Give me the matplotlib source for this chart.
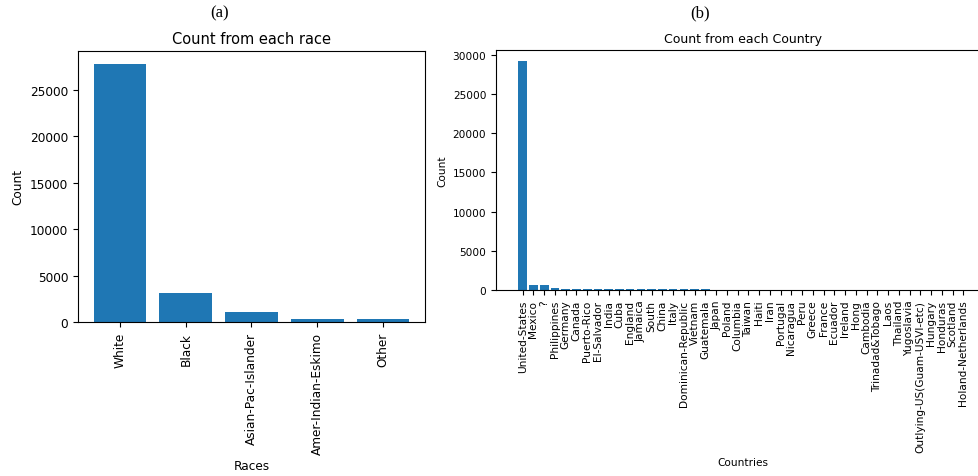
import matplotlib
matplotlib.use("Agg")
import matplotlib.pyplot as plt

# Census income data: record counts per race and per native country
races = ["White", "Black", "Asian-Pac-Islander", "Amer-Indian-Eskimo", "Other"]
race_counts = [27816, 3124, 1039, 311, 271]

countries = [
    "United-States", "Mexico", "?", "Philippines", "Germany", "Canada",
    "Puerto-Rico", "El-Salvador", "India", "Cuba", "England", "Jamaica",
    "South", "China", "Italy", "Dominican-Republic", "Vietnam", "Guatemala",
    "Japan", "Poland", "Columbia", "Taiwan", "Haiti", "Iran", "Portugal",
    "Nicaragua", "Peru", "Greece", "France", "Ecuador", "Ireland", "Hong",
    "Cambodia", "Trinadad&Tobago", "Laos", "Thailand", "Yugoslavia",
    "Outlying-US(Guam-USVI-etc)", "Hungary", "Honduras", "Scotland",
    "Holand-Netherlands",
]
country_counts = [
    29170, 643, 583, 198, 137, 121, 114, 106, 100, 95, 90, 81,
    80, 75, 73, 70, 67, 64, 62, 60, 59, 51, 44, 43, 37,
    34, 31, 29, 29, 28, 24, 20, 19, 19, 18, 18, 16,
    14, 13, 13, 12, 1,
]

W, H = 979, 477
fig = plt.figure(figsize=(W / 100, H / 100), dpi=100)


def box(l, t, r, b):
    return [l / W, 1 - b / H, (r - l) / W, (b - t) / H]


# (a) races
ax1 = fig.add_axes(box(78, 52, 425, 323))
ax1.bar(races, race_counts, color="#1f77b4")
ax1.set_title("Count from each race", fontsize=10.5)
ax1.set_xlabel("Races", fontsize=8.7)
ax1.set_ylabel("Count", fontsize=8.7)
ax1.tick_params(axis="both", labelsize=8.7)
ax1.tick_params(axis="x", labelrotation=90)
ax1.set_yticks([0, 5000, 10000, 15000, 20000, 25000])

# (b) native countries
ax2 = fig.add_axes(box(496, 51, 990, 291))
ax2.bar(countries, country_counts, color="#1f77b4")
ax2.set_title("Count from each Country", fontsize=9)
ax2.set_xlabel("Countries", fontsize=7.6)
ax2.set_ylabel("Count", fontsize=7.6)
ax2.tick_params(axis="both", labelsize=7.6)
ax2.tick_params(axis="x", labelrotation=90)
ax2.set_yticks([0, 5000, 10000, 15000, 20000, 25000, 30000])

fig.text(220 / W, 1 - 13 / H, "(a)", ha="center", va="center",
         fontsize=12, family="Liberation Serif")
fig.text(700 / W, 1 - 13 / H, "(b)", ha="center", va="center",
         fontsize=12, family="Liberation Serif")

fig.savefig("out.png", dpi=100)
